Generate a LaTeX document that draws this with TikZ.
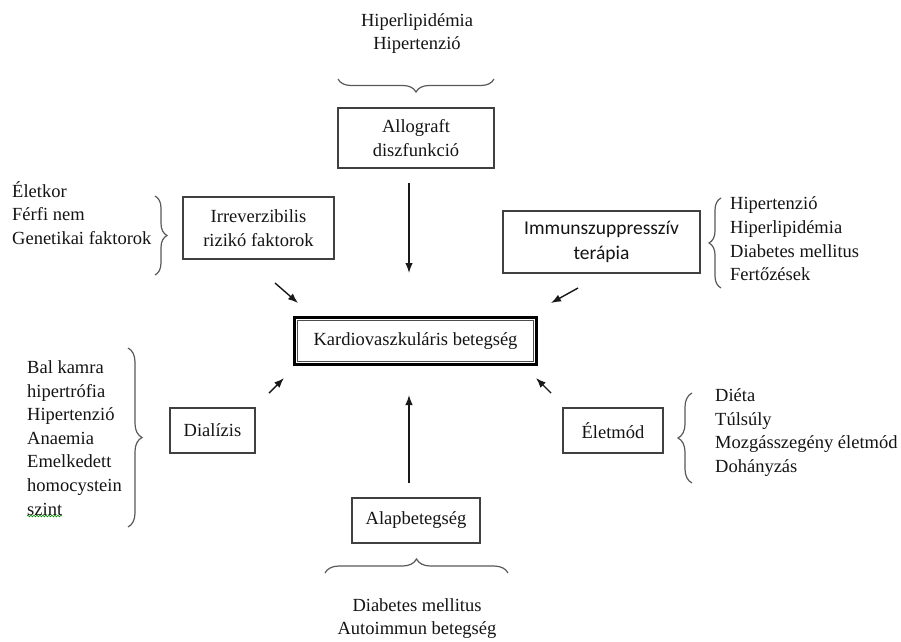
\documentclass[tikz,border=0pt]{standalone}
\usepackage{fontspec}
\setmainfont{Liberation Serif}
\newfontfamily\calfont{Carlito}
\usetikzlibrary{arrows.meta,decorations.pathreplacing,decorations.pathmorphing}
\begin{document}
\begin{tikzpicture}[x=1pt,y=-1pt,
  txt/.style={text=black!92,font=\fontsize{18.5}{23.6}\selectfont,inner sep=0pt},
  lst/.style={txt,align=left,anchor=west},
  boxnode/.style={txt,draw=black!75,line width=1.2pt,align=center},
  arr/.style={draw=black!90,line width=1.4pt,-{Latex[length=10pt,width=7.5pt]}},
  brc/.style={draw=black!65,line width=1.2pt,decorate,decoration={brace,amplitude=#1}},
  brc/.default=12pt]
\useasboundingbox[fill=white] (0,0) rectangle (901,641);

% top
\node[txt,align=center] (toptxt) at (417,33.5) {Hiperlipidémia\\Hipertenzió};
\draw[brc=13pt] (494,79) -- (338,79);
\node[boxnode,minimum width=156pt,minimum height=60pt] (allo) at (416,138) {Allograft\\diszfunkció};

% upper left
\node[lst] (lt1) at (12,213) {Életkor\\Férfi nem\\Genetikai faktorok};
\draw[brc=12pt] (155,196) -- (155,275);
\node[boxnode,minimum width=151pt,minimum height=62pt] (irr) at (258.5,228) {Irreverzibilis\\rizikó faktorok};

% upper right
\node[boxnode,minimum width=197pt,minimum height=62pt,font=\calfont\fontsize{19.5}{25.5}\selectfont] (imm) at (601.5,242) {Immunszuppresszív\\terápia};
\draw[brc=12pt] (721,288) -- (721,198);
\node[lst] (rt1) at (730,239) {Hipertenzió\\Hiperlipidémia\\Diabetes mellitus\\Fertőzések};

% center
\node[txt,draw=black,line width=3.2pt,minimum width=242pt,minimum height=47pt] (kard) at (415.5,341) {Kardiovaszkuláris betegség};
\draw[draw=black!70,line width=0.9pt] ([shift={(5,5)}]kard.north west) rectangle ([shift={(-5,-5)}]kard.south east);

% lower left
\node[lst] (lt2) at (27,438) {Bal kamra\\hipertrófia\\Hipertenzió\\Anaemia\\Emelkedett\\homocystein\\szint};
\draw[brc=14pt] (128,348) -- (128,527);
\node[boxnode,minimum width=85pt,minimum height=45pt] (dial) at (212.5,430.5) {Dialízis};
\draw[draw=green!55!black,line width=0.6pt,decorate,decoration={snake,amplitude=0.8pt,segment length=3pt}] (27,516) -- (62,516);

% lower right
\node[boxnode,minimum width=100pt,minimum height=45pt] (elet) at (613,430.5) {Életmód};
\draw[brc=14pt] (692,483) -- (692,393);
\node[lst] (rt2) at (715,432.5) {Diéta\\Túlsúly\\Mozgásszegény életmód\\Dohányzás};

% bottom
\node[boxnode,minimum width=128pt,minimum height=45pt] (alap) at (416,520.5) {Alapbetegség};
\draw[brc=14pt] (325,573) -- (508,573);
\node[txt,align=center] (bottxt) at (417,618.5) {Diabetes mellitus\\Autoimmun betegség};

% arrows
\coordinate (a1s) at (409,183); \coordinate (a1e) at (409,273);
\coordinate (a2s) at (275,283); \coordinate (a2e) at (298,303);
\coordinate (a3s) at (578,288); \coordinate (a3e) at (551,303);
\coordinate (a4s) at (269,393); \coordinate (a4e) at (284,378);
\coordinate (a5s) at (551,393); \coordinate (a5e) at (536,378);
\coordinate (a6s) at (409,483); \coordinate (a6e) at (409,395);
\draw[arr] (a1s) -- (a1e);
\draw[arr] (a2s) -- (a2e);
\draw[arr] (a3s) -- (a3e);
\draw[arr] (a4s) -- (a4e);
\draw[arr] (a5s) -- (a5e);
\draw[arr] (a6s) -- (a6e);
\end{tikzpicture}
\end{document}
